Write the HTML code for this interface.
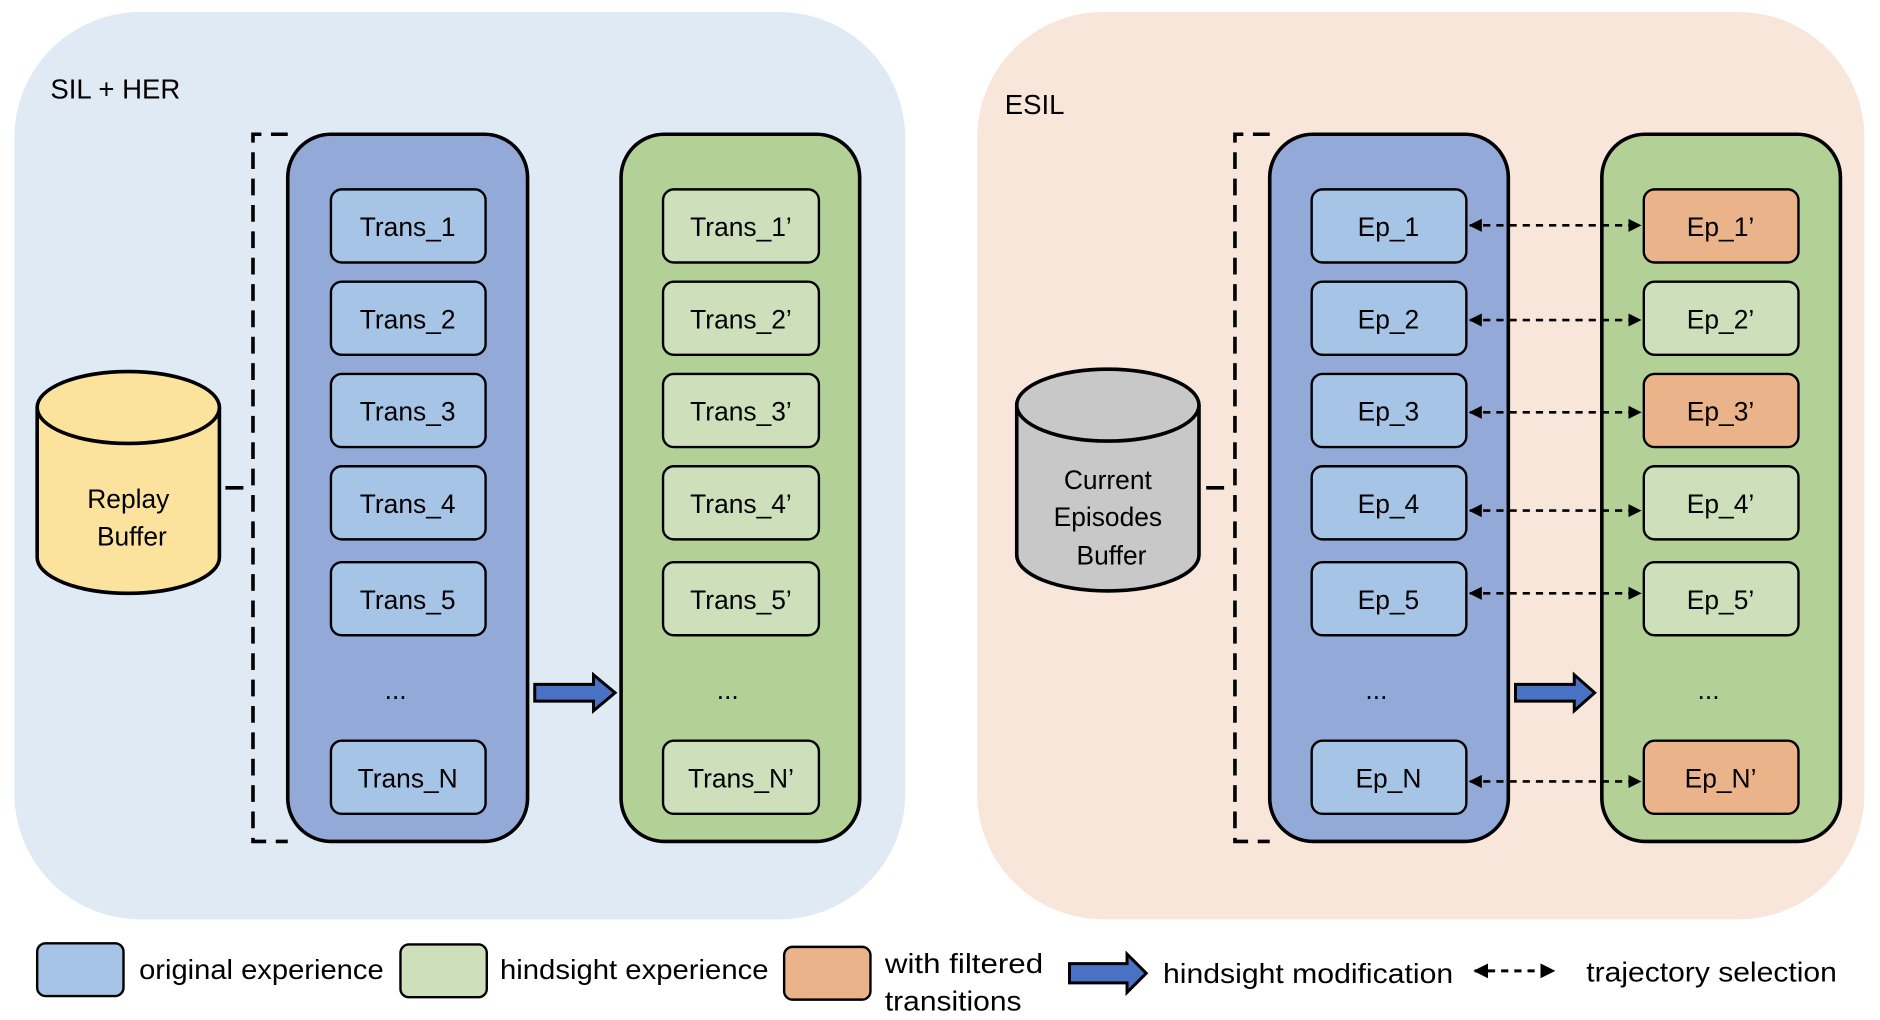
<!DOCTYPE html>
<html><head><meta charset="utf-8"><style>
html,body{margin:0;padding:0;background:#fff}
svg{display:block}
text{font-family:"Liberation Sans",sans-serif;fill:#000}
</style></head><body>
<svg width="1880" height="1020" viewBox="0 0 1568 851" preserveAspectRatio="none" xmlns="http://www.w3.org/2000/svg">
<defs>
<marker id="ah" viewBox="0 0 10 10" refX="9" refY="5" markerWidth="5" markerHeight="5" orient="auto-start-reverse"><path d="M0,0 L10,5 L0,10 z" fill="#000"/></marker>
</defs>
<rect x="12" y="10" width="743" height="757" rx="105" fill="#e0eaf5"/>
<rect x="815" y="10" width="740" height="757" rx="105" fill="#f9e6da"/>
<text x="42" y="82" font-size="23">SIL + HER</text>
<text x="838" y="95" font-size="23">ESIL</text>

<path d="M240,112 H211 V702 H240" fill="none" stroke="#000" stroke-width="3" stroke-dasharray="14,8"/>
<path d="M188,407 H203" fill="none" stroke="#000" stroke-width="3"/>
<rect x="240" y="112" width="200" height="590" rx="36" fill="#93aad9" stroke="#000" stroke-width="3"/>
<rect x="518" y="112" width="199" height="590" rx="36" fill="#b3d197" stroke="#000" stroke-width="3"/>
<g stroke="#000" stroke-width="2">
<rect x="276" y="158" width="129" height="61" rx="9" fill="#a6c4e5"/>
<rect x="276" y="235" width="129" height="61" rx="9" fill="#a6c4e5"/>
<rect x="276" y="312" width="129" height="61" rx="9" fill="#a6c4e5"/>
<rect x="276" y="389" width="129" height="61" rx="9" fill="#a6c4e5"/>
<rect x="276" y="469" width="129" height="61" rx="9" fill="#a6c4e5"/>
<rect x="276" y="618" width="129" height="61" rx="9" fill="#a6c4e5"/>
<rect x="553" y="158" width="130" height="61" rx="9" fill="#cde0bb"/>
<rect x="553" y="235" width="130" height="61" rx="9" fill="#cde0bb"/>
<rect x="553" y="312" width="130" height="61" rx="9" fill="#cde0bb"/>
<rect x="553" y="389" width="130" height="61" rx="9" fill="#cde0bb"/>
<rect x="553" y="469" width="130" height="61" rx="9" fill="#cde0bb"/>
<rect x="553" y="618" width="130" height="61" rx="9" fill="#cde0bb"/>
</g>
<g font-size="22" text-anchor="middle">
<text x="340" y="197">Trans_1</text><text x="340" y="274">Trans_2</text><text x="340" y="351">Trans_3</text>
<text x="340" y="428">Trans_4</text><text x="340" y="508">Trans_5</text><text x="330" y="583">...</text><text x="340" y="657">Trans_N</text>
<text x="618" y="197">Trans_1’</text><text x="618" y="274">Trans_2’</text><text x="618" y="351">Trans_3’</text>
<text x="618" y="428">Trans_4’</text><text x="618" y="508">Trans_5’</text><text x="607" y="583">...</text><text x="618" y="657">Trans_N’</text>
</g>
<path d="M31,340 V465 A76,30 0 0 0 183,465 V340" fill="#fbe39e" stroke="#000" stroke-width="3"/>
<ellipse cx="107" cy="340" rx="76" ry="30" fill="#fbe39e" stroke="#000" stroke-width="3"/>
<text x="107" y="424" font-size="22" text-anchor="middle">Replay</text>
<text x="110" y="455" font-size="22" text-anchor="middle">Buffer</text>
<path d="M446,571 H495 V563 L513,578 L495,593 V585 H446 z" fill="#4a72c4" stroke="#000" stroke-width="2.5"/>

<path d="M1059,112 H1030 V702 H1059" fill="none" stroke="#000" stroke-width="3" stroke-dasharray="14,8"/>
<path d="M1006,407 H1021" fill="none" stroke="#000" stroke-width="3"/>
<rect x="1059" y="112" width="199" height="590" rx="36" fill="#93aad9" stroke="#000" stroke-width="3"/>
<rect x="1336" y="112" width="199" height="590" rx="36" fill="#b3d197" stroke="#000" stroke-width="3"/>
<g stroke="#000" stroke-width="2">
<rect x="1094" y="158" width="129" height="61" rx="9" fill="#a6c4e5"/>
<rect x="1094" y="235" width="129" height="61" rx="9" fill="#a6c4e5"/>
<rect x="1094" y="312" width="129" height="61" rx="9" fill="#a6c4e5"/>
<rect x="1094" y="389" width="129" height="61" rx="9" fill="#a6c4e5"/>
<rect x="1094" y="469" width="129" height="61" rx="9" fill="#a6c4e5"/>
<rect x="1094" y="618" width="129" height="61" rx="9" fill="#a6c4e5"/>
<rect x="1371" y="158" width="129" height="61" rx="9" fill="#eab38a"/>
<rect x="1371" y="235" width="129" height="61" rx="9" fill="#cde0bb"/>
<rect x="1371" y="312" width="129" height="61" rx="9" fill="#eab38a"/>
<rect x="1371" y="389" width="129" height="61" rx="9" fill="#cde0bb"/>
<rect x="1371" y="469" width="129" height="61" rx="9" fill="#cde0bb"/>
<rect x="1371" y="618" width="129" height="61" rx="9" fill="#eab38a"/>
</g>
<g font-size="22" text-anchor="middle">
<text x="1158" y="197">Ep_1</text><text x="1158" y="274">Ep_2</text><text x="1158" y="351">Ep_3</text>
<text x="1158" y="428">Ep_4</text><text x="1158" y="508">Ep_5</text><text x="1148" y="583">...</text><text x="1158" y="657">Ep_N</text>
<text x="1435" y="197">Ep_1’</text><text x="1435" y="274">Ep_2’</text><text x="1435" y="351">Ep_3’</text>
<text x="1435" y="428">Ep_4’</text><text x="1435" y="508">Ep_5’</text><text x="1425" y="583">...</text><text x="1435" y="657">Ep_N’</text>
</g>
<g stroke="#000" stroke-width="2.2" stroke-dasharray="6,5" marker-start="url(#ah)" marker-end="url(#ah)">
<line x1="1226" y1="188" x2="1368" y2="188"/>
<line x1="1226" y1="267" x2="1368" y2="267"/>
<line x1="1226" y1="344" x2="1368" y2="344"/>
<line x1="1226" y1="426" x2="1368" y2="426"/>
<line x1="1226" y1="495" x2="1368" y2="495"/>
<line x1="1226" y1="652" x2="1368" y2="652"/>
</g>
<path d="M848,338 V463 A76,30 0 0 0 1000,463 V338" fill="#c8c8c8" stroke="#000" stroke-width="3"/>
<ellipse cx="924" cy="338" rx="76" ry="30" fill="#c8c8c8" stroke="#000" stroke-width="3"/>
<text x="924" y="408" font-size="22" text-anchor="middle">Current</text>
<text x="924" y="439" font-size="22" text-anchor="middle">Episodes</text>
<text x="927" y="471" font-size="22" text-anchor="middle">Buffer</text>
<path d="M1264,571 H1313 V563 L1330,578 L1313,593 V585 H1264 z" fill="#4a72c4" stroke="#000" stroke-width="2.5"/>

<rect x="31" y="787" width="72" height="44" rx="7" fill="#a6c4e5" stroke="#000" stroke-width="2"/>
<text x="116" y="817" font-size="23" textLength="204" lengthAdjust="spacingAndGlyphs">original experience</text>
<rect x="334" y="788" width="72" height="44" rx="7" fill="#cde0bb" stroke="#000" stroke-width="2"/>
<text x="417" y="817" font-size="23" textLength="224" lengthAdjust="spacingAndGlyphs">hindsight experience</text>
<rect x="654" y="790" width="72" height="44" rx="7" fill="#eab38a" stroke="#000" stroke-width="2"/>
<text x="738" y="812" font-size="23" textLength="132" lengthAdjust="spacingAndGlyphs">with filtered</text>
<text x="738" y="843" font-size="23" textLength="114" lengthAdjust="spacingAndGlyphs">transitions</text>
<path d="M892,804 H940 V796 L956,812 L940,828 V820 H892 z" fill="#4a72c4" stroke="#000" stroke-width="2.5"/>
<text x="970" y="820" font-size="23" textLength="242" lengthAdjust="spacingAndGlyphs">hindsight modification</text>
<line x1="1230" y1="810" x2="1296" y2="810" stroke="#000" stroke-width="2.5" stroke-dasharray="6,5" marker-start="url(#ah)" marker-end="url(#ah)"/>
<text x="1323" y="819" font-size="23" textLength="209" lengthAdjust="spacingAndGlyphs">trajectory selection</text>
</svg>
</body></html>
